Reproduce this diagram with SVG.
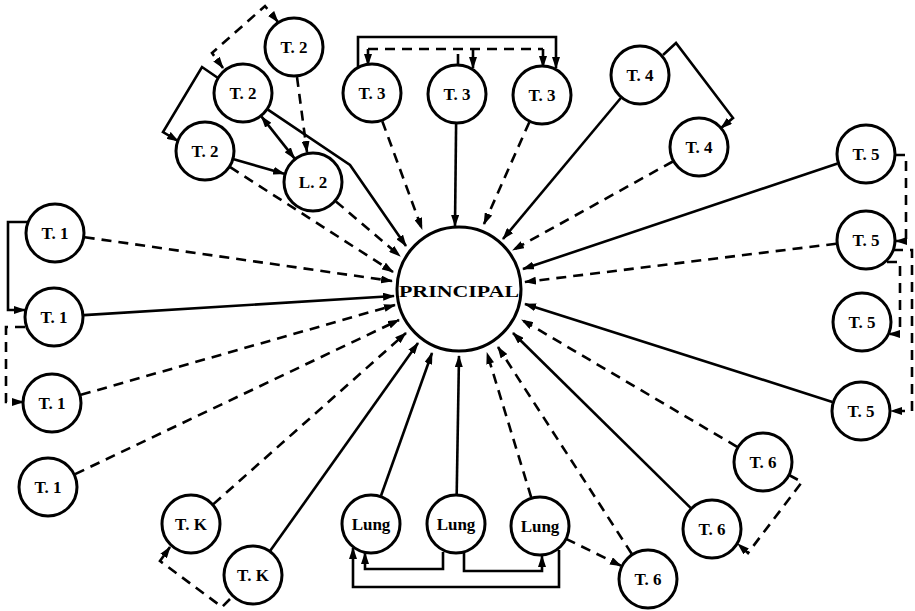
<svg xmlns="http://www.w3.org/2000/svg" width="915" height="611" viewBox="0 0 915 611">
<defs>
<marker id="ar" markerWidth="12" markerHeight="8" refX="11" refY="4" orient="auto-start-reverse" markerUnits="userSpaceOnUse"><path d="M0,0 L12,4 L0,8 z" fill="#000"/></marker>
<style>
.n{fill:#fff;stroke:#000;stroke-width:3}
.t{font-family:"Liberation Serif",serif;font-size:17px;font-weight:bold;text-anchor:middle;dominant-baseline:central;fill:#000}
.s{fill:none;stroke:#000;stroke-width:2.6}
.d{fill:none;stroke:#000;stroke-width:2.6;stroke-dasharray:10 7}
</style>
</defs>
<rect width="915" height="611" fill="#fff"/>
<g id="connectors">
<path class="d" d="M84.7,237.2 L392,281" marker-end="url(#ar)"/>
<path class="s" d="M83.9,315.1 L394,296" marker-end="url(#ar)"/>
<path class="d" d="M80.9,394.8 L395,305" marker-end="url(#ar)"/>
<path class="d" d="M75.1,474.1 L399,320" marker-end="url(#ar)"/>
<path class="d" d="M213.4,504.1 L406,333" marker-end="url(#ar)"/>
<path class="s" d="M270.4,550.6 L418,343" marker-end="url(#ar)"/>
<path class="d" d="M230.2,167.2 L393,272" marker-end="url(#ar)"/>
<path class="d" d="M335.9,201.4 L400,256" marker-end="url(#ar)"/>
<path class="s" d="M267.9,109.7 L350,165 L406,246" marker-end="url(#ar)"/>
<path class="d" d="M382.3,121.2 L422,229" marker-end="url(#ar)"/>
<path class="s" d="M456.1,124 L455,226" marker-end="url(#ar)"/>
<path class="d" d="M529.3,122.2 L484,224" marker-end="url(#ar)"/>
<path class="s" d="M620.8,98 L503,239" marker-end="url(#ar)"/>
<path class="d" d="M672.8,161.5 L513,250" marker-end="url(#ar)"/>
<path class="s" d="M837.6,163.5 L523,269" marker-end="url(#ar)"/>
<path class="d" d="M836.2,243.7 L525,282" marker-end="url(#ar)"/>
<path class="s" d="M832.4,401.9 L525,304" marker-end="url(#ar)"/>
<path class="d" d="M737.1,446.8 L522,320" marker-end="url(#ar)"/>
<path class="s" d="M690.6,507.9 L513,333" marker-end="url(#ar)"/>
<path class="d" d="M631.7,553.8 L498,347" marker-end="url(#ar)"/>
<path class="d" d="M531.2,497.3 L487,353" marker-end="url(#ar)"/>
<path class="s" d="M456.7,494 L459,356" marker-end="url(#ar)"/>
<path class="s" d="M381,495.7 L432,353" marker-end="url(#ar)"/>
<path class="d" d="M297,77 L307,152" marker-end="url(#ar)"/>
<path class="s" d="M261.5,116.6 L294.5,158.4" marker-start="url(#ar)" marker-end="url(#ar)"/>
<path class="s" d="M233.8,159.3 L284.2,173.7" marker-end="url(#ar)"/>
<path class="d" d="M278,22 L265,6 L212,53 L223,68" marker-start="url(#ar)" marker-end="url(#ar)"/>
<path class="s" d="M218,78 L202,67 L163,132 L178,141" marker-end="url(#ar)"/>
<path class="s" d="M358,68 L358,37 L556,37 L556,68" marker-end="url(#ar)"/>
<path class="d" d="M458,64 L458,49"/>
<path class="d" d="M368,49 L543,49"/>
<path class="s" d="M368,49 L368,65" marker-end="url(#ar)"/>
<path class="s" d="M473,49 L473,68" marker-end="url(#ar)"/>
<path class="s" d="M543,49 L543,67" marker-end="url(#ar)"/>
<path class="s" d="M663,55 L676,43 L733,118 L721,128" marker-end="url(#ar)"/>
<path class="d" d="M895,155 L906,155 L906,241 L896,241" marker-end="url(#ar)"/>
<path class="d" d="M893,250 L912,250 L912,411 L891,411" marker-end="url(#ar)"/>
<path class="d" d="M887,262 L900,262 L900,334 L889,334" marker-end="url(#ar)"/>
<path class="d" d="M789,475 L802,482 L748,553 L738,544" marker-end="url(#ar)"/>
<path class="s" d="M559,550 L559,587 L353,587 L353,548" marker-end="url(#ar)"/>
<path class="s" d="M443,552 L443,569 L365,569 L365,553" marker-end="url(#ar)"/>
<path class="s" d="M464,552 L464,571 L542,571 L542,556" marker-end="url(#ar)"/>
<path class="d" d="M566,538.8 L621,565.8" marker-end="url(#ar)"/>
<path class="d" d="M230,599 L222,607 L160,561 L170,547" marker-end="url(#ar)"/>
<path class="s" d="M27,222 L8,222 L8,310 L25,310" marker-end="url(#ar)"/>
<path class="d" d="M25,327 L6,327 L6,402 L23,402" marker-end="url(#ar)"/>
</g>
<g id="principal"><circle class="n" cx="459" cy="289" r="62" stroke-width="3.5"/><text class="t" x="459" y="291" font-size="18" textLength="120" lengthAdjust="spacingAndGlyphs">PRINCIPAL</text></g>
<g id="t1a"><circle class="n" cx="55" cy="233" r="29"/><text class="t" x="55" y="233">T. 1</text></g>
<g id="t1b"><circle class="n" cx="54" cy="317" r="29"/><text class="t" x="54" y="317">T. 1</text></g>
<g id="t1c"><circle class="n" cx="52" cy="403" r="29"/><text class="t" x="52" y="403">T. 1</text></g>
<g id="t1d"><circle class="n" cx="48" cy="487" r="29"/><text class="t" x="48" y="487">T. 1</text></g>
<g id="t2a"><circle class="n" cx="294" cy="47" r="29"/><text class="t" x="294" y="47">T. 2</text></g>
<g id="t2b"><circle class="n" cx="243" cy="93" r="29"/><text class="t" x="243" y="93">T. 2</text></g>
<g id="t2c"><circle class="n" cx="205" cy="151" r="29"/><text class="t" x="205" y="151">T. 2</text></g>
<g id="l2"><circle class="n" cx="313" cy="182" r="29"/><text class="t" x="313" y="182">L. 2</text></g>
<g id="t3a"><circle class="n" cx="372" cy="93" r="29"/><text class="t" x="372" y="93">T. 3</text></g>
<g id="t3b"><circle class="n" cx="457" cy="94" r="29"/><text class="t" x="457" y="94">T. 3</text></g>
<g id="t3c"><circle class="n" cx="542" cy="95" r="29"/><text class="t" x="542" y="95">T. 3</text></g>
<g id="t4a"><circle class="n" cx="640" cy="75" r="29"/><text class="t" x="640" y="75">T. 4</text></g>
<g id="t4b"><circle class="n" cx="699" cy="147" r="29"/><text class="t" x="699" y="147">T. 4</text></g>
<g id="t5a"><circle class="n" cx="866" cy="154" r="29"/><text class="t" x="866" y="154">T. 5</text></g>
<g id="t5b"><circle class="n" cx="866" cy="240" r="29"/><text class="t" x="866" y="240">T. 5</text></g>
<g id="t5c"><circle class="n" cx="862" cy="322" r="29"/><text class="t" x="862" y="322">T. 5</text></g>
<g id="t5d"><circle class="n" cx="861" cy="411" r="29"/><text class="t" x="861" y="411">T. 5</text></g>
<g id="t6a"><circle class="n" cx="763" cy="462" r="29"/><text class="t" x="763" y="462">T. 6</text></g>
<g id="t6b"><circle class="n" cx="712" cy="529" r="29"/><text class="t" x="712" y="529">T. 6</text></g>
<g id="t6c"><circle class="n" cx="648" cy="579" r="29"/><text class="t" x="648" y="579">T. 6</text></g>
<g id="lung1"><circle class="n" cx="371" cy="524" r="29"/><text class="t" x="371" y="524">Lung</text></g>
<g id="lung2"><circle class="n" cx="456" cy="524" r="29"/><text class="t" x="456" y="524">Lung</text></g>
<g id="lung3"><circle class="n" cx="540" cy="526" r="29"/><text class="t" x="540" y="526">Lung</text></g>
<g id="tk1"><circle class="n" cx="191" cy="524" r="29"/><text class="t" x="191" y="524">T. K</text></g>
<g id="tk2"><circle class="n" cx="253" cy="575" r="29"/><text class="t" x="253" y="575">T. K</text></g>
</svg>
